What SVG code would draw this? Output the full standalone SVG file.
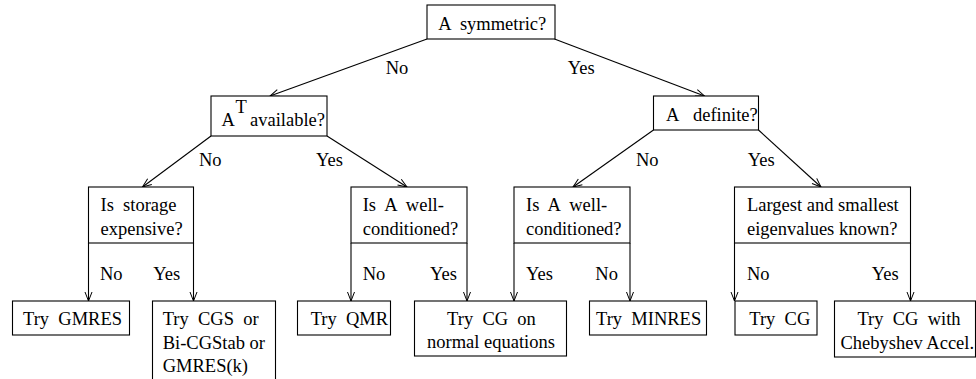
<svg xmlns="http://www.w3.org/2000/svg" width="976" height="379" viewBox="0 0 976 379">
<defs>
<marker id="ah" markerUnits="userSpaceOnUse" markerWidth="12" markerHeight="10" viewBox="-10 -5 12 10" refX="0" refY="0" orient="auto">
<path d="M-9,-3.5 L0,0 L-9,3.5" fill="none" stroke="#000" stroke-width="1"/>
</marker>
<style>
rect{fill:#fff;stroke:#000;stroke-width:1.1}
text{font-family:"Liberation Serif","Times New Roman",serif;font-size:18.5px;fill:#000;white-space:pre}
.c{text-anchor:middle}
#connectors line{stroke:#000;stroke-width:1.1;marker-end:url(#ah)}
</style>
</defs>
<rect x="0" y="0" width="976" height="379" style="fill:#fff;stroke:none"/>
<g id="connectors">
<line x1="427" y1="39" x2="270" y2="96"/>
<line x1="554.5" y1="39" x2="704.5" y2="96"/>
<line x1="211" y1="136" x2="142.5" y2="187"/>
<line x1="327" y1="136" x2="407" y2="187"/>
<line x1="653.5" y1="130" x2="573" y2="187"/>
<line x1="758.5" y1="130" x2="821" y2="187"/>
<line x1="88.5" y1="243" x2="88.5" y2="301"/>
<line x1="193.5" y1="243" x2="193.5" y2="301"/>
<line x1="351" y1="243" x2="351" y2="301"/>
<line x1="467" y1="243" x2="467" y2="301"/>
<line x1="514" y1="243" x2="514" y2="301"/>
<line x1="630" y1="243" x2="630" y2="301"/>
<line x1="734.5" y1="243" x2="734.5" y2="301"/>
<line x1="910.5" y1="243" x2="910.5" y2="301"/>
<text x="385.7" y="74">No</text>
<text x="567.7" y="74">Yes</text>
<text x="199" y="165.5">No</text>
<text x="316" y="165.5">Yes</text>
<text x="636" y="165.5">No</text>
<text x="747.7" y="165.5">Yes</text>
<text x="100" y="279.5">No</text>
<text x="153.3" y="279.5">Yes</text>
<text x="362.7" y="279.5">No</text>
<text x="430" y="279.5">Yes</text>
<text x="526" y="279.5">Yes</text>
<text x="595.3" y="279.5">No</text>
<text x="747" y="279.5">No</text>
<text x="871.7" y="279.5">Yes</text>
</g>
<g id="n-symmetric">
<rect x="427" y="5" width="128" height="34"/>
<text x="438.3" y="29.5">A  symmetric?</text>
</g>
<g id="n-transpose">
<rect x="211" y="96" width="116" height="40"/>
<text x="221.5" y="125.5">A</text>
<text x="235.5" y="113">T</text>
<text x="250" y="125.5">available?</text>
</g>
<g id="n-definite">
<rect x="653.5" y="96" width="105" height="34"/>
<text x="666" y="120.5">A</text>
<text x="693" y="120.5">definite?</text>
</g>
<g id="n-storage">
<rect x="88.5" y="187" width="105" height="56"/>
<text x="100.5" y="211">Is  storage</text>
<text x="100.5" y="234.5">expensive?</text>
</g>
<g id="n-wellcond-1">
<rect x="351" y="187" width="116" height="56"/>
<text x="362.7" y="211">Is  A  well-</text>
<text x="362.7" y="234.5">conditioned?</text>
</g>
<g id="n-wellcond-2">
<rect x="514" y="187" width="116" height="56"/>
<text x="526" y="211">Is  A  well-</text>
<text x="526" y="234.5">conditioned?</text>
</g>
<g id="n-eigen">
<rect x="734.5" y="187" width="176" height="56"/>
<text x="747" y="211">Largest and smallest</text>
<text x="747" y="234.5">eigenvalues known?</text>
</g>
<g id="n-gmres">
<rect x="12.5" y="301" width="117" height="34"/>
<text x="23" y="325">Try  GMRES</text>
</g>
<g id="n-cgs">
<rect x="152.5" y="301" width="123" height="90"/>
<text x="162.7" y="325">Try  CGS  or</text>
<text x="162.7" y="348.5">Bi-CGStab or</text>
<text x="162.7" y="372">GMRES(k)</text>
</g>
<g id="n-qmr">
<rect x="297.5" y="301" width="93" height="34"/>
<text x="310.7" y="325">Try  QMR</text>
</g>
<g id="n-cgne">
<rect x="414.5" y="301" width="152" height="55"/>
<text class="c" x="491.5" y="325">Try  CG  on</text>
<text class="c" x="491" y="348">normal equations</text>
</g>
<g id="n-minres">
<rect x="589.5" y="301" width="117" height="34"/>
<text x="596" y="325">Try  MINRES</text>
</g>
<g id="n-cg">
<rect x="735" y="301" width="82" height="34"/>
<text x="749.3" y="325">Try  CG</text>
</g>
<g id="n-cheb">
<rect x="834.5" y="301" width="141" height="56"/>
<text class="c" x="909" y="325">Try  CG  with</text>
<text class="c" x="907.3" y="348.5">Chebyshev Accel.</text>
</g>
</svg>
